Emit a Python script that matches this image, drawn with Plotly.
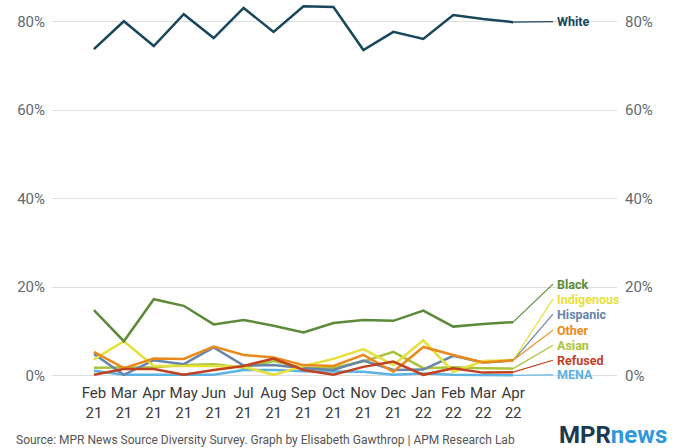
import plotly.graph_objects as go

# months on the x axis
months = ["Feb", "Mar", "Apr", "May", "Jun", "Jul", "Aug", "Sep", "Oct", "Nov",
          "Dec", "Jan", "Feb", "Mar", "Apr"]
years = ["21"] * 11 + ["22"] * 4

# share of sources (%) by race/ethnicity
white = [73.8, 80.1, 74.5, 81.7, 76.3, 83.1, 77.7, 83.5, 83.3, 73.6, 77.7, 76.1, 81.5, 80.6, 79.9]
black = [14.8, 7.8, 17.3, 15.8, 11.6, 12.6, 11.3, 9.8, 11.9, 12.6, 12.4, 14.7, 11.1, 11.7, 12.1]
indigenous = [3.7, 7.8, 2.2, 2.2, 2.2, 2.0, 0.2, 2.2, 3.8, 6.0, 2.4, 8.0, 0.9, 3.3, 3.5]
hispanic = [4.9, 0.2, 3.5, 2.6, 6.4, 2.3, 2.4, 1.7, 1.3, 3.4, 1.3, 1.4, 4.5, 3.0, 3.4]
other = [5.4, 1.7, 3.9, 3.8, 6.6, 4.7, 4.1, 2.4, 2.2, 4.7, 0.9, 6.5, 4.7, 3.0, 3.5]
asian = [1.8, 1.8, 1.9, 2.4, 2.6, 1.8, 3.3, 1.8, 1.8, 3.2, 5.4, 1.7, 1.9, 1.7, 1.6]
refused = [0.2, 1.5, 1.5, 0.2, 1.3, 2.2, 3.9, 1.3, 0.2, 2.0, 3.2, 0.2, 1.7, 0.7, 0.8]
mena = [1.1, 0.2, 0.2, 0.2, 0.2, 1.3, 1.3, 1.0, 0.9, 0.9, 0.2, 0.5, 0.2, 0.2, 0.1]

y_ticks = [0, 20, 40, 60, 80]
y_ticktext = ["0%", "20%", "40%", "60%", "80%"]

# name, values, colour, label height (%) on the right
series = [
    ("MENA", mena, "#5bb2e3", 0.2),
    ("Asian", asian, "#a9c43c", 6.9),
    ("Hispanic", hispanic, "#6685aa", 13.9),
    ("Indigenous", indigenous, "#e6e03a", 17.3),
    ("Other", other, "#ea8a1c", 10.3),
    ("Refused", refused, "#c2411f", 3.5),
    ("Black", black, "#5b8b39", 20.7),
    ("White", white, "#18465c", 80.0),
]

xs = list(range(len(months)))
last = xs[-1]
label_x = 15.4

fig = go.Figure()
for name, vals, color, ly in series:
    fig.add_trace(go.Scatter(x=xs, y=vals, mode="lines", name=name,
                             line=dict(color=color, width=2.5), showlegend=False,
                             hoverinfo="skip"))
    # thin leader from last point to label
    fig.add_trace(go.Scatter(x=[last, label_x - 0.07], y=[vals[-1], ly], mode="lines",
                             line=dict(color=color, width=1.2), showlegend=False,
                             hoverinfo="skip"))
    fig.add_annotation(x=label_x, y=ly, text=f"<b>{name}</b>", showarrow=False,
                       xanchor="left", yanchor="middle",
                       font=dict(family="Roboto", size=12.5, color=color))

# dummy trace so the right axis gets drawn
fig.add_trace(go.Scatter(x=[None], y=[None], yaxis="y2", showlegend=False))

yrange = [-1.42, 84.45]
tickfont = dict(family="Roboto", size=15, color="#5d6a71")
fig.update_layout(
    width=680, height=448,
    margin=dict(l=52, r=63, t=2, b=66),
    plot_bgcolor="white", paper_bgcolor="white",
    xaxis=dict(range=[-1.40, 17.47], tickvals=xs, automargin=False,
               ticktext=[f"{m}<br>{y}" for m, y in zip(months, years)],
               showgrid=False, zeroline=False, showline=False, ticks="",
               tickfont=dict(family="Roboto", size=15, color="#3a3a3a")),
    yaxis=dict(range=yrange, tickvals=y_ticks, ticktext=y_ticktext, automargin=False,
               showgrid=True, gridcolor="#dedede", gridwidth=1, zeroline=False,
               tickfont=tickfont, ticklabelstandoff=6),
    yaxis2=dict(range=yrange, overlaying="y", side="right", automargin=False,
                tickvals=y_ticks, ticktext=y_ticktext, showgrid=False,
                zeroline=False, tickfont=tickfont, ticklabelstandoff=7),
)

fig.add_annotation(xref="paper", yref="paper", x=-0.067, y=-0.153, xanchor="left",
                   yanchor="middle", showarrow=False,
                   text="Source: MPR News Source Diversity Survey. Graph by Elisabeth Gawthrop | APM Research Lab",
                   font=dict(family="Roboto", size=12, color="#555555"))
fig.add_annotation(xref="paper", yref="paper", x=1.092, y=-0.14, xanchor="right",
                   yanchor="middle", showarrow=False,
                   text="<b><span style='color:#1b3a4f'>MPR</span><span style='color:#2f98dc'>news</span></b>",
                   font=dict(family="Roboto", size=24))

fig.write_html("out.html", config={"displayModeBar": False},
               post_script="document.body.style.margin='0';")
